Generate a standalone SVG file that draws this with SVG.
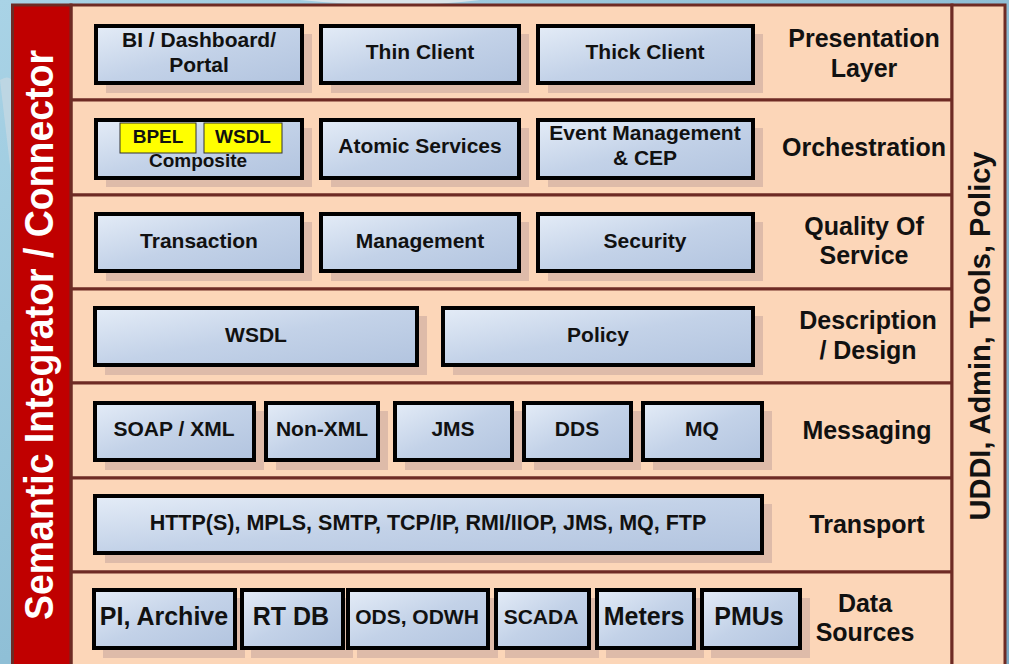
<svg xmlns="http://www.w3.org/2000/svg" width="1009" height="664" viewBox="0 0 1009 664">
<defs>
<linearGradient id="bg" x1="0" y1="0" x2="1" y2="1">
<stop offset="0" stop-color="#a9d3e6"/>
<stop offset="0.5" stop-color="#8fbfd6"/>
<stop offset="1" stop-color="#7aa9c4"/>
</linearGradient>
<linearGradient id="box" x1="0" y1="0" x2="1" y2="1">
<stop offset="0" stop-color="#e4ecf7"/>
<stop offset="0.5" stop-color="#c3d2e8"/>
<stop offset="1" stop-color="#b2c4df"/>
</linearGradient>
<style>
.band{fill:#fcd6b8;stroke:#6e2b24;stroke-width:3}
.sh{fill:#c9a99f;opacity:0.6}
.bx{fill:url(#box);stroke:#000;stroke-width:4}
.t{font-family:"Liberation Sans",Arial,sans-serif;font-weight:bold;fill:#111;text-anchor:middle}
.s19{font-size:19px}
.s21{font-size:21px}
.s25{font-size:25px}
.lab{font-size:25px}
.yb{fill:#ffff00;stroke:#333;stroke-width:1}
</style>
</defs>
<rect x="0" y="0" width="1009" height="664" fill="url(#bg)"/>
<path d="M300 0 Q400 10 480 0 Z" fill="#d8e4ea"/>
<path d="M0 80 Q30 60 14 200 Z" fill="#c7d8e2" opacity="0.7"/>

<g id="frame">
<rect class="band" x="71" y="5" width="881" height="95"/>
<rect class="band" x="71" y="100" width="881" height="95"/>
<rect class="band" x="71" y="195" width="881" height="94"/>
<rect class="band" x="71" y="289" width="881" height="94"/>
<rect class="band" x="71" y="383" width="881" height="95"/>
<rect class="band" x="71" y="478" width="881" height="94"/>
<rect class="band" x="71" y="572" width="881" height="95"/>
</g>

<g id="left-bar">
<rect x="12.5" y="5" width="58.5" height="662" fill="#c00000" stroke="#6e2b24" stroke-width="3"/>
<text class="t" x="0" y="0" transform="translate(53,335) rotate(-90)" style="font-size:40px;fill:#fff" textLength="570" lengthAdjust="spacingAndGlyphs">Semantic Integrator / Connector</text>
</g>

<g id="right-bar">
<rect class="band" x="952" y="5" width="53" height="662"/>
<text class="t" x="0" y="0" transform="translate(990,336) rotate(-90)" style="font-size:29px">UDDI, Admin, Tools, Policy</text>
</g>

<g id="layer-labels">
<text class="t lab" x="864" y="47">Presentation</text>
<text class="t lab" x="864" y="77">Layer</text>
<text class="t lab" x="864" y="156">Orchestration</text>
<text class="t lab" x="864" y="235">Quality Of</text>
<text class="t lab" x="864" y="264">Service</text>
<text class="t lab" x="868" y="329">Description</text>
<text class="t lab" x="868" y="359">/ Design</text>
<text class="t lab" x="867" y="439">Messaging</text>
<text class="t lab" x="867" y="533">Transport</text>
<text class="t lab" x="865" y="612">Data</text>
<text class="t lab" x="865" y="641">Sources</text>
</g>

<g id="n-bi"><rect class="sh" x="106" y="34" width="206" height="59"/><rect class="bx" x="96" y="26" width="206" height="57"/><text class="t s21" x="199" y="47">BI / Dashboard/</text><text class="t s21" x="199" y="72">Portal</text></g>
<g id="n-thin"><rect class="sh" x="331" y="34" width="198" height="59"/><rect class="bx" x="321" y="26" width="198" height="57"/><text class="t s21" x="420" y="59">Thin Client</text></g>
<g id="n-thick"><rect class="sh" x="548" y="34" width="215" height="59"/><rect class="bx" x="538" y="26" width="215" height="57"/><text class="t s21" x="645" y="59">Thick Client</text></g>

<g id="n-composite"><rect class="sh" x="106" y="128" width="206" height="59"/><rect class="bx" x="96" y="120" width="206" height="58"/>
<rect class="yb" x="120" y="123" width="76" height="30"/><text class="t s19" x="158" y="143">BPEL</text>
<rect class="yb" x="204" y="123" width="78" height="30"/><text class="t s19" x="243" y="143">WSDL</text>
<text class="t s19" x="198" y="167">Composite</text></g>
<g id="n-atomic"><rect class="sh" x="331" y="128" width="198" height="59"/><rect class="bx" x="321" y="120" width="198" height="58"/><text class="t s21" x="420" y="153">Atomic Services</text></g>
<g id="n-event"><rect class="sh" x="548" y="128" width="215" height="59"/><rect class="bx" x="538" y="120" width="215" height="58"/><text class="t s21" x="645" y="140">Event Management</text><text class="t s21" x="645" y="165">&amp; CEP</text></g>

<g id="n-transaction"><rect class="sh" x="106" y="222" width="206" height="59"/><rect class="bx" x="96" y="214" width="206" height="57"/><text class="t s21" x="199" y="248">Transaction</text></g>
<g id="n-management"><rect class="sh" x="331" y="222" width="198" height="59"/><rect class="bx" x="321" y="214" width="198" height="57"/><text class="t s21" x="420" y="248">Management</text></g>
<g id="n-security"><rect class="sh" x="548" y="222" width="215" height="59"/><rect class="bx" x="538" y="214" width="215" height="57"/><text class="t s21" x="645" y="248">Security</text></g>

<g id="n-wsdl"><rect class="sh" x="105" y="316" width="322" height="59"/><rect class="bx" x="95" y="308" width="322" height="57"/><text class="t s21" x="256" y="342">WSDL</text></g>
<g id="n-policy"><rect class="sh" x="453" y="316" width="310" height="59"/><rect class="bx" x="443" y="308" width="310" height="57"/><text class="t s21" x="598" y="342">Policy</text></g>

<g id="n-soap"><rect class="sh" x="105" y="411" width="159" height="59"/><rect class="bx" x="95" y="403" width="159" height="57"/><text class="t s21" x="174" y="436">SOAP / XML</text></g>
<g id="n-nonxml"><rect class="sh" x="276" y="411" width="112" height="59"/><rect class="bx" x="266" y="403" width="112" height="57"/><text class="t s21" x="322" y="436">Non-XML</text></g>
<g id="n-jms"><rect class="sh" x="405" y="411" width="117" height="59"/><rect class="bx" x="395" y="403" width="117" height="57"/><text class="t s21" x="453" y="436">JMS</text></g>
<g id="n-dds"><rect class="sh" x="534" y="411" width="107" height="59"/><rect class="bx" x="524" y="403" width="107" height="57"/><text class="t s21" x="577" y="436">DDS</text></g>
<g id="n-mq"><rect class="sh" x="653" y="411" width="119" height="59"/><rect class="bx" x="643" y="403" width="119" height="57"/><text class="t s21" x="702" y="436">MQ</text></g>

<g id="n-transport"><rect class="sh" x="105" y="504" width="667" height="59"/><rect class="bx" x="95" y="496" width="667" height="57"/><text class="t" style="font-size:21.5px" x="428" y="530">HTTP(S), MPLS, SMTP, TCP/IP, RMI/IIOP, JMS, MQ, FTP</text></g>

<g id="n-pi"><rect class="sh" x="103" y="598" width="142" height="60"/><rect class="bx" x="94" y="590" width="141" height="58"/><text class="t s25" x="164" y="625">PI, Archive</text></g>
<g id="n-rtdb"><rect class="sh" x="251" y="598" width="102" height="60"/><rect class="bx" x="242" y="590" width="101" height="58"/><text class="t s25" x="291" y="625">RT DB</text></g>
<g id="n-ods"><rect class="sh" x="357" y="598" width="141" height="60"/><rect class="bx" x="348" y="590" width="140" height="58"/><text class="t s21" x="417" y="624">ODS, ODWH</text></g>
<g id="n-scada"><rect class="sh" x="505" y="598" width="94" height="60"/><rect class="bx" x="496" y="590" width="93" height="58"/><text class="t s21" x="541" y="624">SCADA</text></g>
<g id="n-meters"><rect class="sh" x="606" y="598" width="98" height="60"/><rect class="bx" x="597" y="590" width="97" height="58"/><text class="t s25" x="644" y="625">Meters</text></g>
<g id="n-pmus"><rect class="sh" x="711" y="598" width="99" height="60"/><rect class="bx" x="702" y="590" width="98" height="58"/><text class="t s25" x="749" y="625">PMUs</text></g>

<g id="connectors"/>
</svg>
